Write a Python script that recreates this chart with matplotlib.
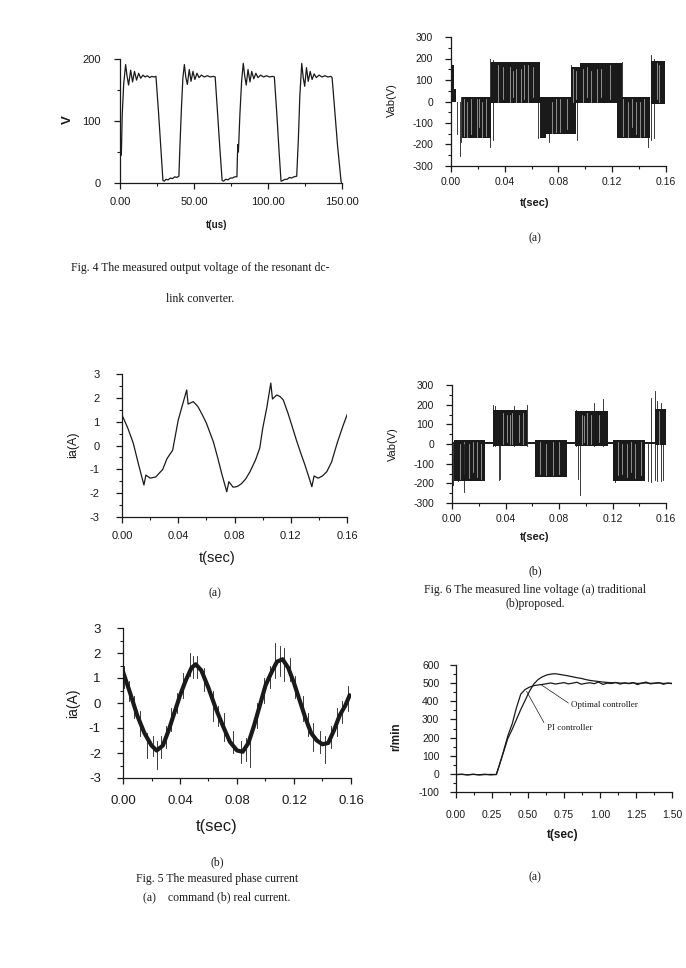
import matplotlib
matplotlib.use("Agg")
import matplotlib.pyplot as plt
from matplotlib.ticker import MultipleLocator, FormatStrFormatter

# ---- Fig. 4 : resonant dc-link output voltage (t in us, V) ----
fig4_t = [0, 0.6, 0.9, 1.5, 2.5, 3.8, 4.8, 5.8, 7.2, 8.5, 9.8, 11.2, 12.6, 14, 15.5, 17,
          18.5, 20, 21.5, 23, 24.3, 26, 27.5, 29, 30, 31, 32.5, 34, 35.5, 37, 38.5, 39.8,
          40.5, 41.5, 42.5, 43.5, 44.5, 45.5, 46.8, 48, 49.3, 50.6, 52, 53.4, 55, 57, 59,
          61, 63, 64.3, 66, 67.5, 69, 70, 71.5, 73, 74.5, 76, 77.5, 79, 79.3, 79.6, 80,
          81, 82.2, 83.3, 84.3, 85.3, 86.5, 87.8, 89, 90.4, 91.8, 93.2, 95, 97, 99, 101,
          103, 104.3, 106, 107.5, 108.8, 110, 111.5, 113, 114.5, 116, 117.5, 119.4, 120.5,
          121.5, 122.8, 123.8, 124.8, 126, 127.2, 128.5, 129.8, 131.2, 132.6, 134.5, 136.5,
          138.5, 140.5, 142.5, 143.3, 145, 147, 149.4, 150]
fig4_v = [20, 70, 45, 110, 160, 191, 172, 158, 182, 163, 180, 166, 177, 169, 174, 171,
          173, 170, 172, 171, 172, 115, 60, 4, 3, 6, 5, 8, 7, 10, 9, 11,
          60, 120, 170, 191, 170, 159, 183, 164, 180, 167, 177, 170, 174, 171, 173,
          171, 172, 171, 110, 55, 4, 3, 6, 5, 8, 8, 10, 10, 40, 62, 50,
          110, 165, 193, 172, 158, 183, 163, 180, 168, 177, 170, 174, 171, 173, 171,
          172, 171, 110, 50, 3, 4, 6, 6, 9, 8, 10, 11, 70,
          140, 193, 170, 156, 186, 164, 180, 167, 176, 170, 174, 171,
          173, 171, 172, 170, 120, 60, 2, 0]

# ---- Fig. 5(a) : command phase current ----
cmd_t = [0, 0.004, 0.008, 0.012, 0.0156, 0.017, 0.020, 0.024, 0.029, 0.032, 0.036, 0.040,
         0.043, 0.046, 0.047, 0.0507, 0.054, 0.057, 0.060, 0.065, 0.068, 0.071, 0.0745,
         0.076, 0.079, 0.082, 0.085, 0.088, 0.091, 0.095, 0.098, 0.100, 0.103, 0.1058,
         0.107, 0.110, 0.1125, 0.1147, 0.118, 0.121, 0.124, 0.127, 0.130, 0.133, 0.135,
         0.1366, 0.1395, 0.1425, 0.1456, 0.149, 0.153, 0.157, 0.160]
cmd_i = [1.28, 0.75, 0.1, -0.85, -1.66, -1.24, -1.37, -1.32, -1.0, -0.55, -0.2, 1.07,
         1.7, 2.33, 1.74, 1.84, 1.63, 1.3, 0.94, 0.15, -0.5, -1.2, -1.94,
         -1.52, -1.75, -1.72, -1.6, -1.4, -1.1, -0.6, -0.1, 0.7, 1.6, 2.62,
         1.95, 2.12, 2.05, 1.91, 1.36, 0.8, 0.23, -0.3, -0.8, -1.35, -1.73,
         -1.28, -1.37, -1.28, -1.1, -0.7, 0.1, 0.8, 1.28]

# ---- Fig. 5(b) : real phase current (centre line + noise spikes) ----
real_t = [0, 0.005, 0.01, 0.015, 0.02, 0.0236, 0.028, 0.032, 0.036, 0.04, 0.044, 0.048,
          0.051, 0.055, 0.06, 0.065, 0.07, 0.075, 0.08, 0.084, 0.088, 0.092, 0.096, 0.1,
          0.104, 0.108, 0.112, 0.116, 0.12, 0.124, 0.128, 0.132, 0.136, 0.14, 0.144,
          0.148, 0.152, 0.156, 0.159]
real_i = [1.25, 0.4, -0.5, -1.2, -1.7, -1.9, -1.7, -1.1, -0.4, 0.3, 0.9, 1.4,
          1.55, 1.3, 0.6, -0.2, -0.9, -1.55, -1.9, -1.95, -1.6, -0.9, -0.1, 0.7,
          1.2, 1.65, 1.75, 1.4, 0.8, 0.1, -0.6, -1.2, -1.5, -1.65, -1.6,
          -1.1, -0.5, -0.1, 0.3]
real_spikes = [(0.001, 0.6, 1.5), (0.004, 0.1, 0.9), (0.008, -0.6, 0.3), (0.012, -1.3, -0.3),
               (0.017, -2.2, -1.2), (0.021, -2.1, -1.3), (0.024, -2.65, -1.5), (0.027, -2.2, -1.3),
               (0.030, -1.8, -0.9), (0.034, -1.1, -0.2), (0.038, -0.4, 0.4), (0.042, 0.2, 1.2),
               (0.047, 1.1, 2.0), (0.049, 1.0, 1.9), (0.052, 1.0, 1.9), (0.057, 0.5, 1.4),
               (0.063, -0.7, 0.5), (0.067, -0.9, -0.1), (0.071, -1.5, -0.4), (0.077, -2.0, -1.1),
               (0.083, -2.4, -1.5), (0.086, -2.3, -1.4), (0.089, -2.55, -1.2), (0.094, -1.0, 0.0),
               (0.099, 0.0, 1.0), (0.103, 0.6, 1.5), (0.107, 1.0, 2.4), (0.110, 1.1, 2.3),
               (0.113, 0.9, 2.2), (0.117, 0.9, 1.8), (0.121, 0.2, 1.1), (0.126, -0.7, 0.3),
               (0.130, -1.3, -0.4), (0.133, -1.9, -0.8), (0.138, -2.0, -1.1), (0.142, -2.4, -1.3),
               (0.146, -1.8, -0.9), (0.150, -1.3, -0.2), (0.154, -0.8, 0.1), (0.158, -0.3, 0.7)]

# ---- Fig. 6 : line voltage, PWM blocks (t0, t1, low, high) ----
trad_blocks = [(0.0, 0.0025, 0, 170), (0.0025, 0.004, 0, 60), (0.008, 0.0295, -172, 20),
               (0.0295, 0.066, -8, 185), (0.066, 0.0705, -172, 20), (0.0705, 0.093, -150, 22),
               (0.089, 0.096, -8, 160), (0.096, 0.1275, -8, 178), (0.1235, 0.148, -172, 20),
               (0.1485, 0.159, -10, 190)]
trad_spikes = [(0.0045, -150, 0), (0.0065, -255, 0), (0.0075, -190, 20), (0.029, -210, 200),
               (0.031, -180, 195), (0.0645, -170, 185), (0.073, -190, 20), (0.094, -180, 20),
               (0.0895, -10, 170), (0.127, -165, 185), (0.1465, -210, 20), (0.1485, -180, 215),
               (0.151, -170, 200)]
trad_gaps = [(0.010, -160, 10), (0.012, -170, 0), (0.015, -150, 10), (0.019, -165, 10),
             (0.021, -120, 10), (0.023, -170, 0), (0.026, -160, 10), (0.035, 0, 170),
             (0.039, 10, 160), (0.044, 0, 160), (0.046, 20, 140), (0.048, -5, 150),
             (0.052, 0, 150), (0.054, 10, 170), (0.057, 0, 170), (0.061, 20, 160),
             (0.075, -150, 0), (0.078, -140, 10), (0.081, -140, 10), (0.086, -130, 10),
             (0.091, 0, 150), (0.093, 10, 140), (0.098, 0, 150), (0.101, 20, 160),
             (0.104, 0, 140), (0.109, 0, 150), (0.112, 20, 150), (0.118, 10, 170),
             (0.128, -160, 10), (0.132, -170, 0), (0.135, -120, 10), (0.138, -150, 0),
             (0.141, -170, 0), (0.144, -160, 10), (0.153, 10, 180), (0.155, 0, 170)]

prop_blocks = [(0.0017, 0.0247, -186, 20), (0.0304, 0.0564, -10, 175), (0.062, 0.0857, -170, 20),
               (0.092, 0.117, -10, 170), (0.1207, 0.1445, -188, 20), (0.1515, 0.1598, -5, 180)]
prop_spikes = [(0.001, -210, 0), (0.0045, -190, 20), (0.009, -245, 0), (0.031, -10, 200),
               (0.0325, -10, 195), (0.035, -185, 0), (0.036, -180, 0), (0.046, -10, 195),
               (0.056, -10, 200), (0.0945, -180, 0), (0.096, -260, 0), (0.093, -10, 175),
               (0.106, -10, 210), (0.113, -10, 230), (0.1215, -195, 20), (0.1465, -190, 0),
               (0.149, -195, 235), (0.1515, -185, 270), (0.153, -190, 220), (0.1565, -190, 210),
               (0.158, -185, 0)]
prop_gaps = [(0.006, -180, 0), (0.009, -150, 10), (0.013, -175, 0), (0.016, -140, 10),
             (0.019, -170, 10), (0.022, -180, 0), (0.038, 0, 160), (0.041, 10, 150),
             (0.043, 0, 150), (0.045, 0, 160), (0.050, 10, 150), (0.053, 0, 160),
             (0.066, -150, 10), (0.070, -160, 0), (0.0755, -160, 10), (0.080, -150, 10),
             (0.097, 0, 150), (0.099, 10, 140), (0.101, 0, 160), (0.104, 0, 150),
             (0.110, 10, 150), (0.124, -160, 10), (0.127, -150, 0), (0.131, -170, 0),
             (0.134, -140, 10), (0.137, -175, 0), (0.141, -160, 10), (0.155, 0, 170)]

# ---- Fig. 7(a) : speed response ----
spd_t = [0, 0.04, 0.08, 0.12, 0.16, 0.2, 0.24, 0.28, 0.30, 0.33, 0.36, 0.39, 0.42, 0.45,
         0.48, 0.51, 0.54, 0.57, 0.60, 0.63, 0.66, 0.69, 0.72, 0.75, 0.78, 0.81, 0.84,
         0.87, 0.90, 0.93, 0.96, 0.99, 1.02, 1.05, 1.08, 1.11, 1.14, 1.17, 1.20, 1.23,
         1.26, 1.29, 1.32, 1.35, 1.38, 1.41, 1.44, 1.47, 1.50]
opt_speed = [-4, -2, -6, -3, -5, -2, -6, -3, 45, 125, 210, 275, 365, 440,
             465, 478, 486, 490, 493, 497, 501, 495, 499, 503, 496, 500, 505,
             494, 499, 502, 497, 506, 493, 500, 498, 504, 495, 501, 497, 503,
             492, 500, 506, 496, 499, 502, 494, 500, 497]
pi_speed = [-4, -3, -5, -2, -6, -4, -3, -4, 45, 120, 195, 245, 300, 355,
            405, 455, 495, 520, 535, 545, 550, 552, 548, 544, 540, 535, 530,
            526, 520, 515, 512, 509, 506, 504, 502, 503, 500, 501, 499, 502,
            498, 500, 501, 499, 500, 502, 498, 500, 499]

W, H = 686, 968
SANS = "Liberation Sans"
SERIF = "Liberation Serif"
INK = "#1a1a1a"

fig = plt.figure(figsize=(W / 100, H / 100), dpi=100)
fig.patch.set_facecolor("white")


def add_ax(l, t, r, b):
    return fig.add_axes([l / W, 1 - b / H, (r - l) / W, (b - t) / H])


def style(ax, xmaj, xmin, ymaj, ymin, xfmt, yfmt, size, xpad, ypad):
    for s in ("top", "right"):
        ax.spines[s].set_visible(False)
    for s in ("left", "bottom"):
        ax.spines[s].set_linewidth(0.9)
        ax.spines[s].set_color(INK)
    ax.xaxis.set_major_locator(MultipleLocator(xmaj))
    ax.xaxis.set_minor_locator(MultipleLocator(xmin))
    ax.yaxis.set_major_locator(MultipleLocator(ymaj))
    ax.yaxis.set_minor_locator(MultipleLocator(ymin))
    ax.xaxis.set_major_formatter(FormatStrFormatter(xfmt))
    ax.yaxis.set_major_formatter(FormatStrFormatter(yfmt))
    ax.tick_params(which="major", direction="out", length=4, width=0.9, color=INK,
                   labelsize=size, labelcolor=INK)
    ax.tick_params(which="minor", direction="out", length=2.2, width=0.8, color=INK)
    ax.tick_params(axis="x", which="major", pad=xpad)
    ax.tick_params(axis="y", which="major", pad=ypad)
    for lab in ax.get_xticklabels() + ax.get_yticklabels():
        lab.set_fontfamily(SANS)
    ax.set_facecolor("none")


def ytext(x, y, s, size, bold=False):
    fig.text(x / W, 1 - y / H, s, rotation=90, ha="center", va="center", fontsize=size,
             family=SANS, weight="bold" if bold else "normal", color=INK)


def ctext(x, y, s, size, family=SERIF, bold=False):
    fig.text(x / W, 1 - y / H, s, ha="center", va="center", fontsize=size,
             family=family, weight="bold" if bold else "normal", color=INK)


def draw_pwm(ax, blocks, spikes, gaps, zero_line):
    if zero_line:
        ax.plot([0, 0.16], [3, 3], color=INK, lw=1.4)
    for t0, t1, lo, hi in blocks:
        ax.fill_between([t0, t1], [lo, lo], [hi, hi], color=INK, lw=0)
    for t, lo, hi in gaps:
        ax.plot([t, t], [lo, hi], color="white", lw=0.5, alpha=0.7)
    for t, lo, hi in spikes:
        ax.plot([t, t], [lo, hi], color=INK, lw=0.6)


# Fig. 4
ax = add_ax(120, 59, 342, 183)
ax.plot(fig4_t, fig4_v, color=INK, lw=0.9)
ax.set_xlim(0, 150)
ax.set_ylim(0, 200)
style(ax, 50, 25, 100, 50, "%.2f", "%d", 8, 6, 10)
ytext(68, 120, "V", 9.5, bold=True)
ctext(217, 225, "t(us)", 7, family=SANS, bold=True)
ctext(200, 268, "Fig. 4 The measured output voltage of the resonant dc-", 8.5)
ctext(200, 299, "link converter.", 8.5)

# Fig. 6(a)
ax = add_ax(451, 37, 666, 166)
draw_pwm(ax, trad_blocks, trad_spikes, trad_gaps, False)
ax.set_xlim(0, 0.16)
ax.set_ylim(-300, 300)
style(ax, 0.04, 0.02, 100, 50, "%.2f", "%d", 7.5, 4, 9)
ytext(392, 100, "Vab(V)", 8)
ctext(535, 203, "t(sec)", 8, family=SANS, bold=True)
ctext(535, 238, "(a)", 8.5)

# Fig. 5(a)
ax = add_ax(122, 374, 347, 517)
ax.plot(cmd_t, cmd_i, color=INK, lw=0.9)
ax.set_xlim(0, 0.16)
ax.set_ylim(-3, 3)
style(ax, 0.04, 0.02, 1, 0.5, "%.2f", "%d", 8, 6, 12)
ytext(73, 445, "ia(A)", 9)
ctext(217, 558, "t(sec)", 10.5, family=SANS)
ctext(215, 593, "(a)", 8.5)

# Fig. 6(b)
ax = add_ax(452, 385, 666, 503)
draw_pwm(ax, prop_blocks, prop_spikes, prop_gaps, True)
ax.set_xlim(0, 0.16)
ax.set_ylim(-300, 300)
style(ax, 0.04, 0.02, 100, 50, "%.2f", "%d", 7.5, 4, 9)
ytext(393, 444, "Vab(V)", 8)
ctext(535, 537, "t(sec)", 8, family=SANS, bold=True)
ctext(535, 571, "(b)", 8.5)
ctext(535, 590, "Fig. 6 The measured line voltage (a) traditional", 8.5)
ctext(535, 604, "(b)proposed.", 8.5)

# Fig. 5(b)
ax = add_ax(123, 628, 351, 778)
ax.plot(real_t, real_i, color=INK, lw=3.0, solid_joinstyle="round")
for t, lo, hi in real_spikes:
    ax.plot([t, t], [lo, hi], color=INK, lw=0.6)
ax.set_xlim(0, 0.16)
ax.set_ylim(-3, 3)
style(ax, 0.04, 0.02, 1, 0.5, "%.2f", "%d", 9.5, 8, 12)
ytext(73, 703, "ia(A)", 10)
ctext(217, 827, "t(sec)", 12, family=SANS)
ctext(217, 862, "(b)", 8.5)
ctext(217, 879, "Fig. 5 The measured phase current", 8.5)
ctext(217, 897, "(a)    command (b) real current.", 8.5)

# Fig. 7(a)
ax = add_ax(456, 665, 672, 792)
ax.plot(spd_t, pi_speed, color=INK, lw=0.9)
ax.plot(spd_t, opt_speed, color=INK, lw=0.9)
ax.set_xlim(0, 1.5)
ax.set_ylim(-100, 600)
style(ax, 0.25, 0.125, 100, 50, "%.2f", "%d", 7.5, 9, 8)
ax.annotate("Optimal controller", xy=(0.59, 492), xytext=(0.8, 380), fontsize=6.5,
            family=SERIF, color=INK, va="center",
            arrowprops=dict(arrowstyle="-", color=INK, lw=0.5, shrinkA=0, shrinkB=0,
                            relpos=(0, 0.5)))
ax.annotate("PI controller", xy=(0.49, 455), xytext=(0.63, 255), fontsize=6.5,
            family=SERIF, color=INK, va="center",
            arrowprops=dict(arrowstyle="-", color=INK, lw=0.5, shrinkA=0, shrinkB=0,
                            relpos=(0, 0.5)))
ytext(396, 737, "r/min", 8.5, bold=True)
ctext(563, 835, "t(sec)", 8.5, family=SANS, bold=True)
ctext(535, 877, "(a)", 8.5)

fig.savefig("out.png", dpi=100, facecolor="white")
